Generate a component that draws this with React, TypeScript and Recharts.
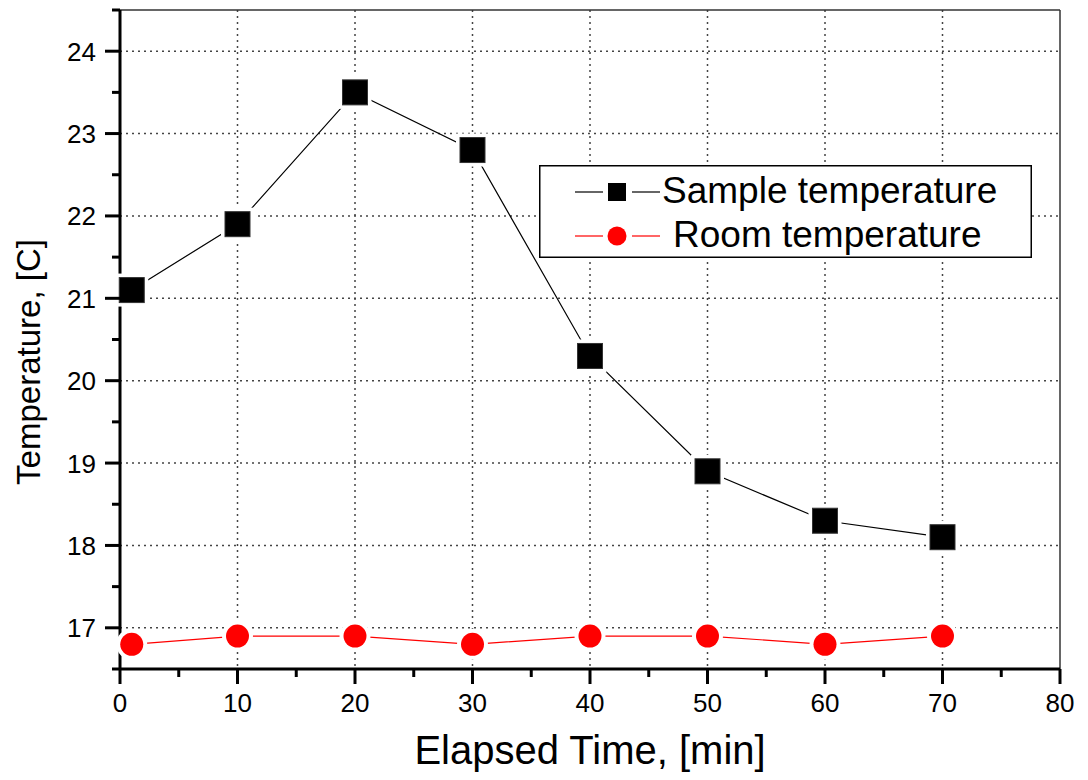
import {
  LineChart,
  Line,
  XAxis,
  YAxis,
  CartesianGrid,
  ReferenceLine,
  Legend,
} from "recharts";

// Temperature log, readings every ten minutes
const times = [1, 10, 20, 30, 40, 50, 60, 70];
const sampleTemp = [21.1, 21.9, 23.5, 22.8, 20.3, 18.9, 18.3, 18.1];
const roomTemp = [16.8, 16.9, 16.9, 16.8, 16.9, 16.9, 16.8, 16.9];

// Axis ticks: labelled majors plus unlabelled minors in between
const xTicks = [0, 5, 10, 15, 20, 25, 30, 35, 40, 45, 50, 55, 60, 65, 70, 75, 80];
const yTicks = [16.5, 17, 17.5, 18, 18.5, 19, 19.5, 20, 20.5, 21, 21.5, 22, 22.5, 23, 23.5, 24, 24.5];
const xGrid = [10, 20, 30, 40, 50, 60, 70];
const yGrid = [17, 18, 19, 20, 21, 22, 23, 24];
const legendOrder = ["sample", "room"];

const FONT = "'Liberation Sans', Arial, Helvetica, sans-serif";
const MAJOR = 15;
const MINOR = 8;
const GAP = 9;

const data = times.map((t, i) => ({
  time: t,
  sample: sampleTemp[i],
  room: roomTemp[i],
}));

function XTick(props: any) {
  const { x, y, payload } = props;
  const v = payload.value;
  const major = v % 10 === 0;
  const axisY = y - MAJOR - GAP;
  return (
    <g>
      <line x1={x} x2={x} y1={axisY} y2={axisY + (major ? MAJOR : MINOR)} stroke="#000" strokeWidth={3} />
      {major && (
        <text x={x} y={axisY + MAJOR + GAP + 19} textAnchor="middle" fontSize={26} fontFamily={FONT} fill="#000">
          {v}
        </text>
      )}
    </g>
  );
}

function YTick(props: any) {
  const { x, y, payload } = props;
  const v = payload.value;
  const major = Number.isInteger(v);
  const axisX = x + MAJOR + GAP;
  return (
    <g>
      <line x1={axisX} x2={axisX - (major ? MAJOR : MINOR)} y1={y} y2={y} stroke="#000" strokeWidth={3} />
      {major && (
        <text x={axisX - MAJOR - GAP} y={y + 9.5} textAnchor="end" fontSize={26} fontFamily={FONT} fill="#000">
          {v}
        </text>
      )}
    </g>
  );
}

function SquareDot(props: any) {
  const { cx, cy } = props;
  if (cx == null || cy == null) return <g />;
  return (
    <g>
      <rect x={cx - 16.5} y={cy - 16.5} width={33} height={33} fill="#fff" />
      <rect x={cx - 12.5} y={cy - 12.5} width={25} height={25} fill="#000" stroke="#333" strokeWidth={1} />
    </g>
  );
}

function CircleDot(props: any) {
  const { cx, cy } = props;
  if (cx == null || cy == null) return <g />;
  return (
    <g>
      <circle cx={cx} cy={cy} r={15.5} fill="#fff" />
      <circle cx={cx} cy={cy} r={11.5} fill="#ff0000" />
    </g>
  );
}

function LegendBox(props: any) {
  const items = [...(props.payload || [])].sort(
    (a: any, b: any) => legendOrder.indexOf(a.dataKey) - legendOrder.indexOf(b.dataKey)
  );
  const rows = [
    { base: 38, textX: 123 },
    { base: 82, textX: 134 },
  ];
  return (
    <svg width={493} height={93} style={{ display: "block" }}>
      <rect x={0.75} y={0.75} width={491.5} height={91.5} fill="#fff" stroke="#000" strokeWidth={1.5} />
      {items.map((it: any, i: number) => {
        const row = rows[i];
        const cy = row.base - 11;
        const color = it.dataKey === "room" ? "#ff0000" : "#000";
        return (
          <g key={it.dataKey}>
            <line x1={36} x2={64} y1={cy} y2={cy} stroke={color} strokeWidth={1.2} />
            <line x1={93} x2={121} y1={cy} y2={cy} stroke={color} strokeWidth={1.2} />
            {it.dataKey === "room" ? (
              <circle cx={78} cy={cy} r={9.5} fill="#ff0000" />
            ) : (
              <rect x={69} y={cy - 9} width={18} height={18} fill="#000" />
            )}
            <text x={row.textX} y={row.base} fontSize={37} fontFamily={FONT} fill="#000">
              {it.value}
            </text>
          </g>
        );
      })}
    </svg>
  );
}

export default function App() {
  return (
    <div style={{ position: "absolute", left: 0, top: 0, background: "#fff" }}>
      <LineChart
        width={1088}
        height={780}
        data={data}
        margin={{ top: 10, right: 28, bottom: 0, left: 0 }}
      >
        <CartesianGrid
          horizontalValues={yGrid}
          verticalValues={xGrid}
          stroke="#444"
          strokeWidth={1.5}
          strokeDasharray="2 4"
        />
        <XAxis
          dataKey="time"
          type="number"
          domain={[0, 80]}
          ticks={xTicks}
          interval={0}
          height={111}
          tickSize={MAJOR}
          tickMargin={GAP}
          tickLine={false}
          tick={<XTick />}
          axisLine={{ stroke: "#000", strokeWidth: 3 }}
          label={{
            value: "Elapsed Time, [min]",
            position: "insideBottom",
            offset: 16,
            fontSize: 40,
            fontFamily: FONT,
            fill: "#000",
          }}
        />
        <YAxis
          type="number"
          domain={[16.5, 24.5]}
          ticks={yTicks}
          interval={0}
          width={120}
          tickSize={MAJOR}
          tickMargin={GAP}
          tickLine={false}
          tick={<YTick />}
          axisLine={{ stroke: "#000", strokeWidth: 3 }}
          label={{
            content: () => (
              <text
                x={40}
                y={362}
                transform="rotate(-90 40 362)"
                textAnchor="middle"
                fontSize={33}
                fontFamily={FONT}
                fill="#000"
              >
                Temperature, [C]
              </text>
            ),
          }}
        />
        <ReferenceLine y={24.5} stroke="#333" strokeWidth={1.5} />
        <ReferenceLine x={80} stroke="#333" strokeWidth={1.5} />
        <Line
          dataKey="sample"
          name="Sample temperature"
          stroke="#000"
          strokeWidth={1.2}
          dot={<SquareDot />}
          activeDot={false}
          isAnimationActive={false}
        />
        <Line
          dataKey="room"
          name="Room temperature"
          stroke="#ff0000"
          strokeWidth={1.2}
          dot={<CircleDot />}
          activeDot={false}
          isAnimationActive={false}
        />
        <Legend
          layout="vertical"
          verticalAlign="middle"
          align="center"
          content={<LegendBox />}
          wrapperStyle={{ position: "absolute", left: 539, top: 165, width: 493, height: 93 }}
        />
      </LineChart>
    </div>
  );
}
